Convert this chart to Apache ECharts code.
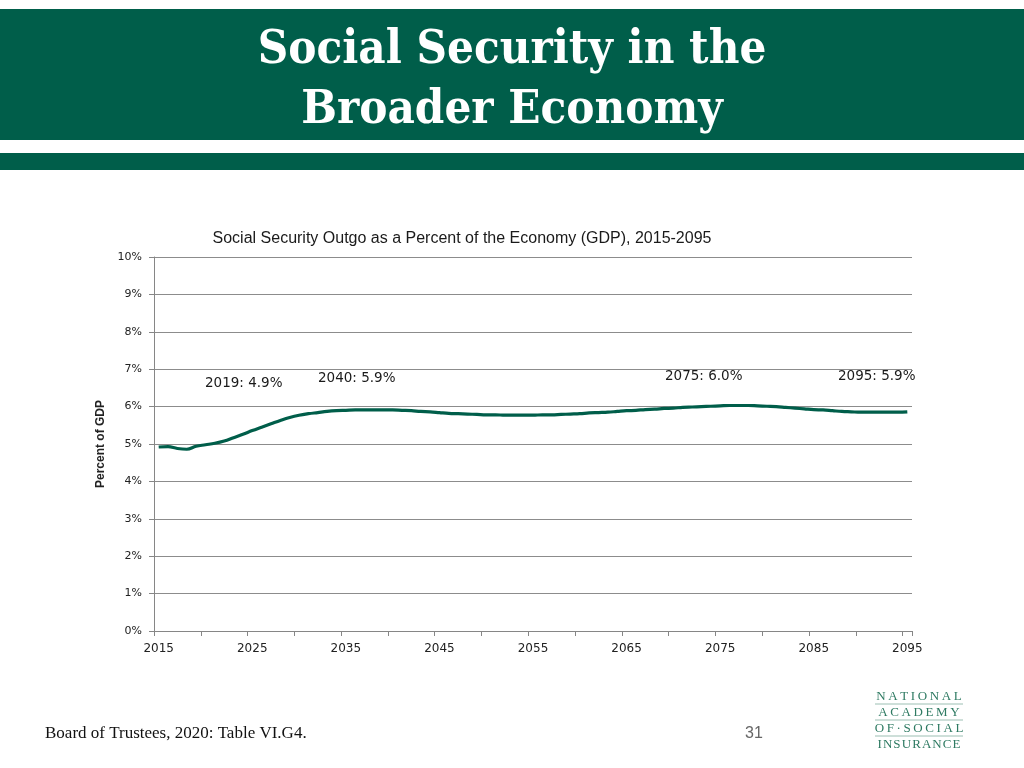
<!DOCTYPE html>
<html><head><meta charset="utf-8">
<script src="https://cdn.jsdelivr.net/npm/echarts@6/dist/echarts.min.js"></script>
<style>html,body{margin:0;padding:0;background:#fff}#c{width:1024px;height:768px}</style>
</head><body><div id="c"></div>
<script>
const years = [];
for (let y = 2015; y <= 2095; y++) years.push(String(y));
const outgoPct = [
 4.92,4.93,4.88,4.86,4.94,4.98,5.02,5.08,5.17,5.26,
 5.36,5.45,5.54,5.63,5.71,5.77,5.81,5.84,5.87,5.89,
 5.90,5.91,5.91,5.91,5.91,5.91,5.90,5.89,5.87,5.86,
 5.84,5.82,5.81,5.80,5.79,5.78,5.78,5.77,5.77,5.77,
 5.77,5.78,5.78,5.79,5.80,5.81,5.83,5.84,5.85,5.87,
 5.89,5.90,5.92,5.93,5.95,5.96,5.98,5.99,6.00,6.01,
 6.02,6.03,6.03,6.03,6.02,6.01,6.00,5.98,5.96,5.94,
 5.92,5.91,5.89,5.87,5.86,5.85,5.85,5.85,5.85,5.85,
 5.86
];
const annotations = ["2019: 4.9%", "2040: 5.9%", "2075: 6.0%", "2095: 5.9%"];
const yTicks = [0,1,2,3,4,5,6,7,8,9,10];
const logoLines = ["NATIONAL", "ACADEMY", "OF·SOCIAL", "INSURANCE"];

const green = '#005E4A';
const chart = echarts.init(document.getElementById('c'), null, {renderer:'canvas'});
const annPos = [[205,376],[318,371],[665,369],[838,369]];
const logoSpacing = ['\u2009','\u2009','\u2009','\u200A'];
chart.setOption({
  animation:false,
  backgroundColor:'#fff',
  title:{
    text:'Social Security Outgo as a Percent of the Economy (GDP), 2015-2095',
    left:457, top:226, textAlign:'center',
    textStyle:{fontFamily:'Liberation Sans, Arial',fontSize:16,fontWeight:'normal',color:'#1a1a1a'}
  },
  grid:{left:154,right:112,top:257,bottom:137},
  xAxis:{
    type:'category', data:years, boundaryGap:true,
    axisLine:{lineStyle:{color:'#868686',width:1}},
    axisTick:{show:true,interval:4,length:5,lineStyle:{color:'#868686'}},
    axisLabel:{interval:9,margin:12,fontFamily:'DejaVu Sans, Verdana',fontSize:12,color:'#222'}
  },
  yAxis:{
    type:'value', min:0, max:10, interval:1,
    name:'Percent of GDP', nameLocation:'middle', nameGap:44,
    nameTextStyle:{fontFamily:'Liberation Sans, Arial',fontSize:12,fontWeight:'bold',color:'#222'},
    axisLine:{show:true,lineStyle:{color:'#868686',width:1}},
    axisTick:{show:true,length:5,lineStyle:{color:'#868686'}},
    axisLabel:{formatter:v=>yTicks.includes(v)?v+'%':'',margin:12,fontFamily:'DejaVu Sans, Verdana',fontSize:11,color:'#222'},
    splitLine:{lineStyle:{color:'#8c8c8c',width:1}}
  },
  series:[{
    type:'line', data:outgoPct, smooth:0.4, showSymbol:false,
    lineStyle:{color:green,width:3.2}
  }],
  graphic:[
    {type:'rect',shape:{x:0,y:9,width:1024,height:131},style:{fill:green}},
    {type:'rect',shape:{x:0,y:153,width:1024,height:17},style:{fill:green}},
    {type:'text',left:'center',top:21,style:{text:'Social Security in the\nBroader Economy',font:'bold 47px "DejaVu Serif Condensed", "DejaVu Serif", serif',fill:'#fff',textAlign:'center',lineHeight:60}},
    ...annotations.map((t,i)=>({type:'text',x:annPos[i][0],y:annPos[i][1],style:{text:t,font:'13.5px "DejaVu Sans", Verdana',fill:'#1a1a1a'}})),
    {type:'text',x:45,y:725,style:{text:'Board of Trustees, 2020: Table VI.G4.',font:'17px "Liberation Serif", serif',fill:'#111'}},
    {type:'text',x:745,y:726,style:{text:'31',font:'16px "Liberation Sans", sans-serif',fill:'#666'}},
    ...logoLines.map((t,i)=>({type:'text',x:919,y:690+i*16,style:{text:t.split('').join(logoSpacing[i]),font:'13px "Liberation Serif", serif',fill:'#2e7a62',textAlign:'center'}})),
    {type:'line',shape:{x1:875,y1:704,x2:963,y2:704},style:{stroke:'#9cbfb3',lineWidth:1}},
    {type:'line',shape:{x1:875,y1:720,x2:963,y2:720},style:{stroke:'#9cbfb3',lineWidth:1}},
    {type:'line',shape:{x1:875,y1:736,x2:963,y2:736},style:{stroke:'#9cbfb3',lineWidth:1}}
  ]
});
</script></body></html>
